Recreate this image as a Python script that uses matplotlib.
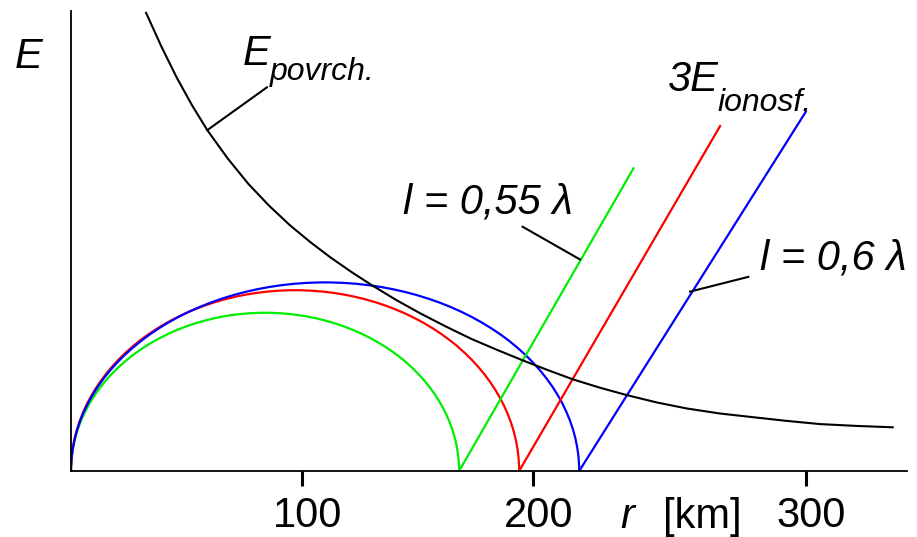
import matplotlib
matplotlib.use("Agg")
import matplotlib.pyplot as plt
from matplotlib.patches import Arc
from matplotlib.transforms import ScaledTranslation

plt.rcParams['font.family'] = ['Liberation Sans', 'DejaVu Sans']

# E_povrch. curve (r in km, E in arbitrary units)
surf_r = [32.5, 39.2, 45.8, 52.4, 59.0, 67.9, 76.8, 85.7, 94.6, 103.5,
          112.4, 121.3, 130.2, 140.7, 151.1, 162.3, 173.4, 184.6, 195.8,
          206.6, 217.4, 229.0, 240.6, 253.6, 266.5, 280.9, 295.2, 309.7,
          324.2, 340.0, 355.7]
surf_E = [99.6, 92.2, 85.5, 79.5, 74.1, 67.9, 62.4, 57.7, 53.5, 49.8,
          46.4, 43.3, 40.4, 37.2, 34.3, 31.4, 28.7, 26.3, 24.0,
          21.9, 19.9, 18.1, 16.5, 14.9, 13.6, 12.5, 11.7, 10.9,
          10.2, 9.8, 9.5]

# the three lobes: where each one lands on the axis and how high it rises
lobe_names = ['l = 0,55', '3E ionosf.', 'l = 0,6']
lobe_colors = ['#00ee00', '#ff0000', '#0000ff']
lobe_end = [168, 194, 220]
lobe_peak = [34.4, 39.3, 41.0]

# straight 3E_ionosf. lines: top end of each
line_top_r = [243.5, 281.0, 318.1]
line_top_E = [65.8, 75.0, 78.1]

# x ticks as drawn (the 300 mark sits a bit further right in the original)
tick_pos = [100, 200, 318]
tick_labels = ['100', '200', '300']

fig = plt.figure(figsize=(9.17, 5.37), dpi=100)
ax = fig.add_axes([71 / 917, 66 / 537, 836 / 917, 460 / 537])
ax.set_xlim(0, 361.9)
ax.set_ylim(0, 100)

for s in ['top', 'right']:
    ax.spines[s].set_visible(False)
for s in ['left', 'bottom']:
    ax.spines[s].set_linewidth(1.3)

ax.set_yticks([])
ax.set_xticks(tick_pos)
ax.set_xticklabels(tick_labels, fontsize=30)
ax.tick_params(axis='x', direction='out', length=11, width=2.2, pad=7)
shift = ScaledTranslation(6 / 100, 0, fig.dpi_scale_trans)
for lab in ax.get_xticklabels():
    lab.set_transform(lab.get_transform() + shift)

# lobes and lines
for end, peak, col, tr, te in zip(lobe_end, lobe_peak, lobe_colors,
                                  line_top_r, line_top_E):
    ax.add_patch(Arc((end / 2, 0), end, 2 * peak, theta1=0, theta2=180,
                     color=col, lw=1.6))
    ax.plot([end, tr], [0, te], color=col, lw=1.6)

ax.plot(surf_r, surf_E, color='black', lw=1.5)

# leader lines
ax.plot([59.0, 84.8], [74.1, 83.4], color='black', lw=1.5)
ax.plot([195.5, 220.3], [53.1, 46.0], color='black', lw=1.5)
ax.plot([293.2, 268.0], [42.2, 39.0], color='black', lw=1.5)

kw = dict(style='italic', va='baseline', ha='left')
ax.text(-24.2, 87.6, 'E', fontsize=30, clip_on=False, **kw)
ax.text(74.2, 88.3, 'E', fontsize=30, **kw)
ax.text(86.1, 85.0, 'povrch.', fontsize=23, **kw)
ax.text(257.9, 82.5, '3E', fontsize=30, **kw)
ax.text(279.7, 78.3, 'ionosf.', fontsize=23, **kw)
ax.text(143.6, 56.0, 'l = 0,55 \u03bb', fontsize=30, **kw)
ax.text(298.3, 43.7, 'l = 0,6 \u03bb', fontsize=30, **kw)
ax.text(237.7, -12.4, 'r', fontsize=30, clip_on=False, **kw)
ax.text(256.3, -12.4, '[km]', fontsize=30, va='baseline', ha='left',
        clip_on=False)

fig.savefig('out.png', dpi=100)
